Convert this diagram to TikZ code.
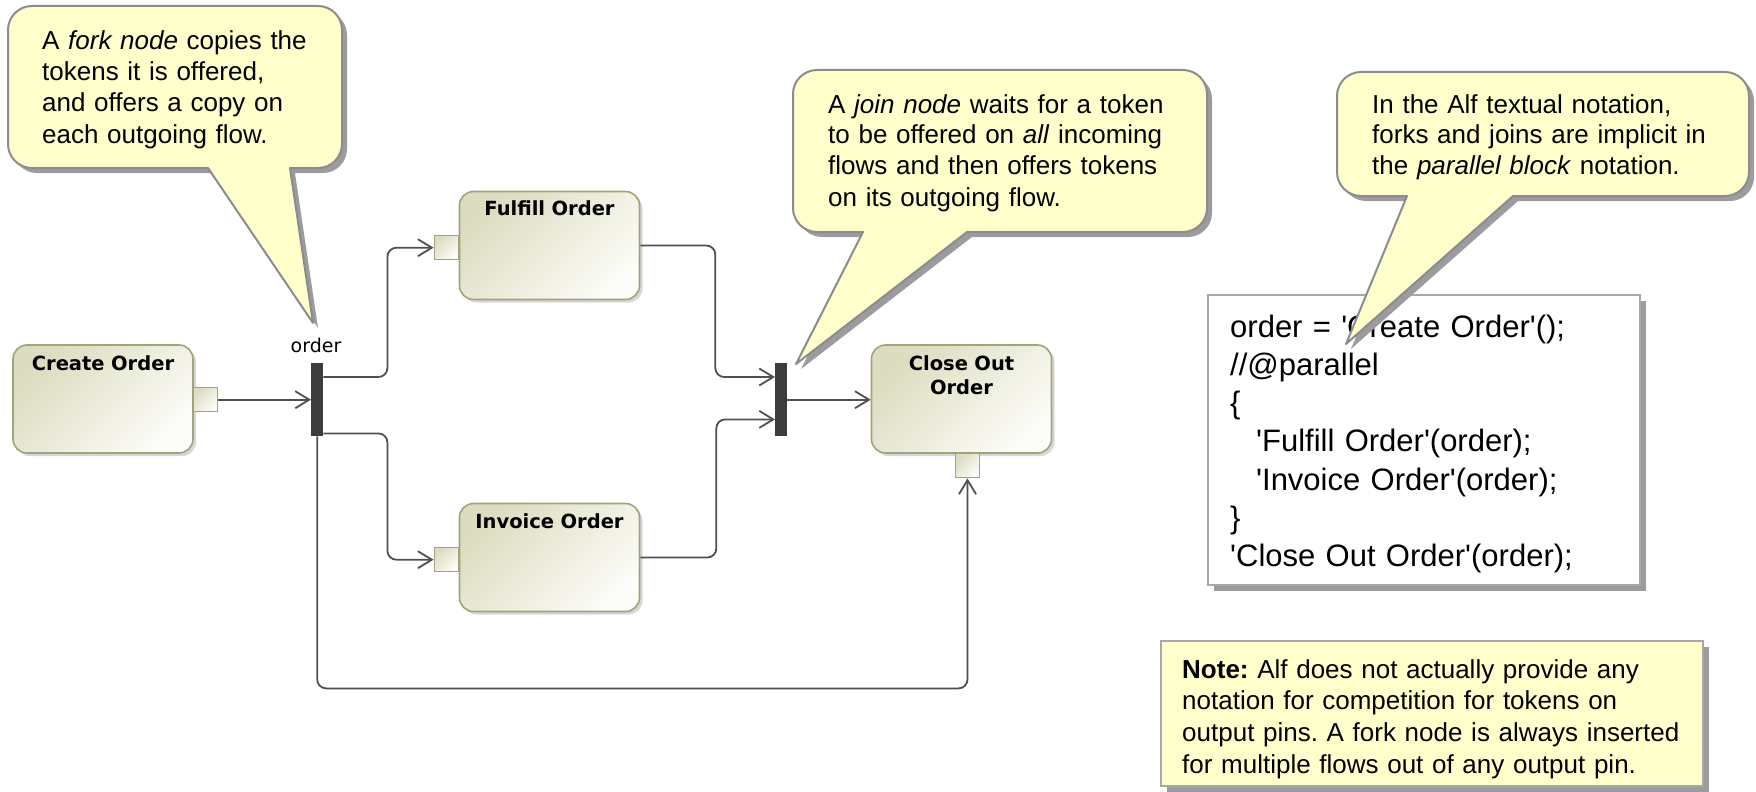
\documentclass[tikz,border=0pt]{standalone}
\usepackage{fontspec}
\setmainfont{Liberation Sans}
\newfontfamily\labelfont{DejaVu Sans}
\usetikzlibrary{arrows.meta,shadows}
\frenchspacing

\definecolor{notefill}{HTML}{FFFFCC}
\definecolor{noteline}{HTML}{8C8C8C}
\definecolor{noteshadow}{HTML}{9C9CA0}
\definecolor{actA}{HTML}{DCDCC0}
\definecolor{actB}{HTML}{FCFCF8}
\definecolor{actline}{HTML}{A3A37A}
\definecolor{flowc}{HTML}{505050}
\definecolor{barc}{HTML}{3C3C3C}
\definecolor{boxline}{HTML}{A8A8A8}

\tikzset{
  balloon/.style={draw=noteline, line width=2pt, fill=notefill, line join=round},
  balloonshadow/.style={fill=noteshadow},
  balloontext/.style={font=\fontsize{26}{31}\selectfont, inner sep=0pt,
    anchor=base west, text width=380pt, align=left},
  actbox/.style={draw=actline, line width=1.6pt, rounded corners=14pt,
    top color=actA, bottom color=actB, shading angle=45, inner sep=0pt,
    minimum width=180pt, minimum height=108pt,
    drop shadow={shadow xshift=3pt, shadow yshift=-3pt, opacity=0.35, fill=black!45}},
  actlabel/.style={font=\labelfont\bfseries\fontsize{19.5}{24}\selectfont,
    inner sep=0pt, anchor=base, text width=170pt, align=center},
  pinbox/.style={draw=actline, line width=1.4pt, top color=actA, bottom color=actB,
    shading angle=45, inner sep=0pt, minimum width=24pt, minimum height=24pt},
  barnode/.style={fill=barc, inner sep=0pt, minimum width=12pt, minimum height=73pt},
  flowline/.style={draw=flowc, line width=1.8pt, rounded corners=9pt,
    -{Straight Barb[length=14pt,width=17pt]}},
  objlabel/.style={font=\labelfont\fontsize{19}{22}\selectfont, inner sep=0pt, anchor=base},
  textbox/.style={draw=boxline, line width=2pt},
  boxshadow/.style={fill=noteshadow}
}

% speech balloon: body corners (#1,#2)-(#3,#4), tail base from #5 to #6, tail tip (#7,#8)
\newcommand\drawballoon[8]{%
  \fill[balloonshadow, shift={(5,5)}]
    (#1+24,#2) -- (#3-24,#2) arc[start angle=-90,end angle=0,radius=24]
    -- (#3,#4-24) arc[start angle=0,end angle=90,radius=24]
    -- (#6,#4) -- (#7,#8) -- (#5,#4)
    -- (#1+24,#4) arc[start angle=90,end angle=180,radius=24]
    -- (#1,#2+24) arc[start angle=180,end angle=270,radius=24] -- cycle;
  \draw[balloon]
    (#1+24,#2) -- (#3-24,#2) arc[start angle=-90,end angle=0,radius=24]
    -- (#3,#4-24) arc[start angle=0,end angle=90,radius=24]
    -- (#6,#4) -- (#7,#8) -- (#5,#4)
    -- (#1+24,#4) arc[start angle=90,end angle=180,radius=24]
    -- (#1,#2+24) arc[start angle=180,end angle=270,radius=24] -- cycle;}

\newcommand\sq{\textquotesingle}

\begin{document}
\begin{tikzpicture}[x=1pt, y=-1pt]
\useasboundingbox (0,0) rectangle (1756,792);

% ---- activity: actions, pins, fork and join bars
\node[actbox] (create) at (103,399) {};
\node[actlabel] (createlbl) at (103,370) {Create Order};
\node[pinbox, anchor=north west] (createpin) at (193,387) {};

\node[barnode, anchor=north west] (fork) at (311,363) {};
\node[objlabel] (objname) at (316,352) {order};

\node[actbox] (fulfill) at (549.5,245.5) {};
\node[actlabel] (fulfilllbl) at (549.5,215) {Fulfill Order};
\node[pinbox, anchor=north east] (fulfillpin) at (459,235) {};

\node[actbox] (invoice) at (549.5,557.5) {};
\node[actlabel] (invoicelbl) at (549.5,528) {Invoice Order};
\node[pinbox, anchor=north east] (invoicepin) at (459,547) {};

\node[barnode, anchor=north west] (join) at (775,363) {};

\node[actbox] (closeout) at (961.5,399) {};
\node[actlabel] (closelbl) at (961.5,370) {Close Out\\Order};
\node[pinbox, anchor=north] (closepin) at (967.5,453) {};

% ---- object flows
\draw[flowline] (createpin.east) -- (fork.west |- createpin.east);
\draw[flowline] ([yshift=-14pt]fork.north east) -- ++(64,0) |- (fulfillpin.west);
\draw[flowline] ([yshift=3pt]fork.south east) -- ++(64,0) |- (invoicepin.west);
\draw[flowline] (fork.south) -- ++(0,252) -| (closepin.south);
\draw[flowline] (fulfill.east) -- ++(75,0) |- ([yshift=-14pt]join.north west);
\draw[flowline] (invoice.east) -- ++(76,0) |- ([yshift=17pt]join.south west);
\draw[flowline] (join.east) -- (closeout.west |- join.east);

% ---- Alf code box
\fill[boxshadow] (1214,301) rectangle (1646,591);
\draw[textbox, fill=white] (1208,295) rectangle (1640,585);
\node[inner sep=0pt, anchor=base west, text width=400pt, align=left,
      font=\fontsize{31}{38.3}\selectfont] (code) at (1230,337)
  {order = \sq Create Order\sq();\\
   //@parallel\\
   \{\\
   \hspace*{26pt}\sq Fulfill Order\sq(order);\\
   \hspace*{26pt}\sq Invoice Order\sq(order);\\
   \}\\
   \sq Close Out Order\sq(order);};

% ---- note box
\fill[boxshadow] (1167,647) rectangle (1709,792);
\draw[textbox, fill=notefill] (1161,641) rectangle (1703,786);
\node[inner sep=0pt, anchor=base west, text width=520pt, align=left,
      font=\fontsize{26}{31.7}\selectfont] (note) at (1182,678)
  {\textbf{Note:} Alf does not actually provide any\\
   notation for competition for tokens on\\
   output pins. A fork node is always inserted\\
   for multiple flows out of any output pin.};

% ---- speech balloons
\drawballoon{8}{6}{342}{168}{208}{290}{313}{323}
\node[balloontext] (forknote) at (42,50)
  {A \textit{fork node} copies the\\
   tokens it is offered,\\
   and offers a copy on\\
   each outgoing flow.};

\drawballoon{793}{70}{1207}{232}{863}{967}{796}{364}
\node[balloontext] (joinnote) at (828,113)
  {A \textit{join node} waits for a token\\
   to be offered on \textit{all} incoming\\
   flows and then offers tokens\\
   on its outgoing flow.};

\drawballoon{1337}{72}{1749}{196}{1407}{1513}{1346}{344}
\node[balloontext] (alfnote) at (1372,113)
  {In the Alf textual notation,\\
   forks and joins are implicit in\\
   the \textit{parallel block} notation.};

\end{tikzpicture}
\end{document}
